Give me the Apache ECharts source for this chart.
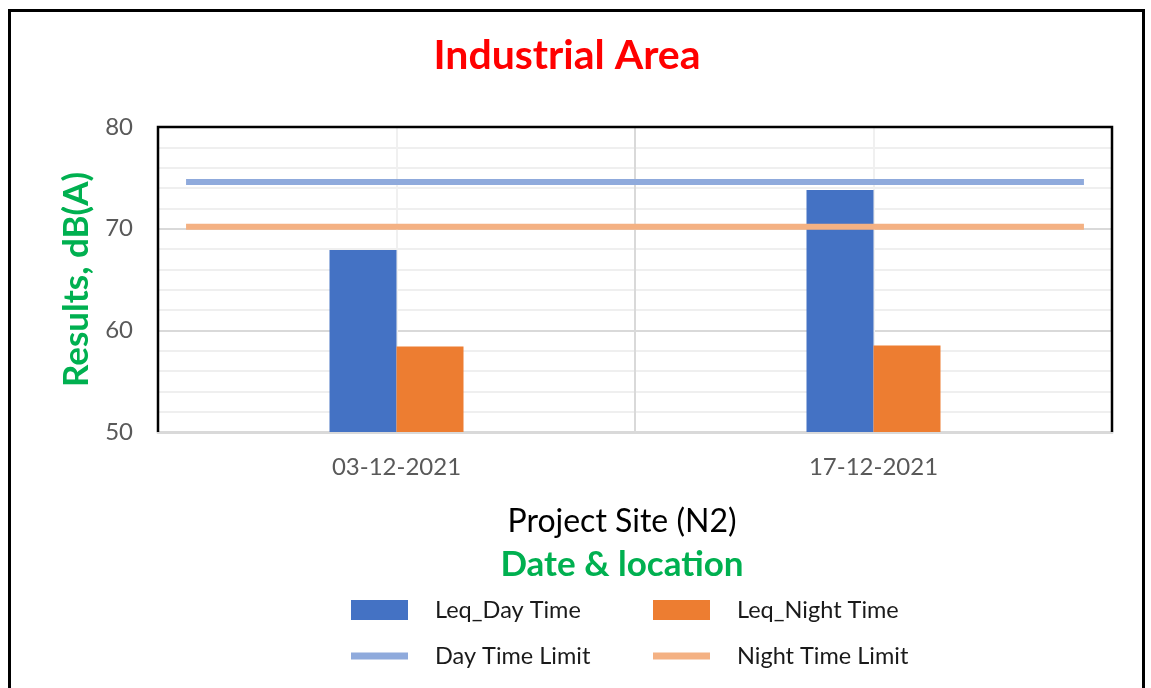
<!DOCTYPE html>
<html>
<head>
<meta charset="utf-8">
<title>Industrial Area</title>
<script src="https://cdn.jsdelivr.net/npm/echarts@6/dist/echarts.min.js"></script>
<style>
  html, body { margin: 0; padding: 0; background: #fff; }
  #main { width: 1151px; height: 688px; }
</style>
</head>
<body>
<div id="main"></div>
<script>
// data
var categories = ['03-12-2021', '17-12-2021'];
var leqDay = [67.9, 73.8];
var leqNight = [58.4, 58.5];
var dayLimit = 74.6;
var nightLimit = 70.2;
var yTicks = { min: 50, max: 80, step: 10 };

// limit lines sit on a hidden axis with 17 slots so they run nearly wall to wall
var limitSlots = [];
for (var i = 0; i < 17; i++) limitSlots.push('');
var dayLimitLine = limitSlots.map(function () { return dayLimit; });
var nightLimitLine = limitSlots.map(function () { return nightLimit; });

var font = 'Lato';
var plot = { left: 158, top: 127, right: 1112, bottom: 432 };
var chart = echarts.init(document.getElementById('main'));

var legendBase = {
  orient: 'vertical',
  top: 598,
  padding: 0,
  itemWidth: 57,
  itemHeight: 20,
  itemGap: 22,
  textStyle: { color: '#1a1a1a', fontFamily: font, fontSize: 23.5, padding: [0, 0, 0, 22] }
};
var lineIcon = 'path://M0,0 h57 v7 h-57 z';

chart.setOption({
  backgroundColor: '#fff',
  animation: false,
  title: {
    text: 'Industrial Area',
    left: 562,
    textAlign: 'center',
    top: 30,
    textStyle: { color: '#ff0000', fontFamily: font, fontWeight: 'bold', fontSize: 41 }
  },
  legend: [
    Object.assign({}, legendBase, {
      left: 351,
      data: [
        { name: 'Leq_Day Time', icon: 'rect' },
        { name: 'Day Time Limit', icon: lineIcon }
      ]
    }),
    Object.assign({}, legendBase, {
      left: 653,
      data: [
        { name: 'Leq_Night Time', icon: 'rect' },
        { name: 'Night Time Limit', icon: lineIcon }
      ]
    })
  ],
  grid: {
    left: plot.left, right: 1151 - plot.right, top: plot.top, bottom: 688 - plot.bottom,
    show: true, borderWidth: 0, backgroundColor: '#fff'
  },
  xAxis: [{
    type: 'category',
    data: categories,
    axisLine: { lineStyle: { color: '#d9d9d9', width: 3 } },
    axisTick: { show: false },
    splitLine: { show: false },
    axisLabel: { color: '#595959', fontFamily: font, fontSize: 24, margin: 23 },
    name: '{a|Project Site (N2)}\n{b|Date & location}',
    nameLocation: 'middle',
    nameGap: 68,
    nameTextStyle: {
      padding: [0, 26, 0, 0],
      rich: {
        a: { color: '#000', fontFamily: font, fontSize: 32, lineHeight: 43 },
        b: { color: '#00b050', fontFamily: font, fontSize: 35, fontWeight: 'bold', lineHeight: 43 }
      }
    }
  }, {
    // only for vertical grid lines: category boundary (major) and centres (minor)
    type: 'value',
    min: 0, max: 4, interval: 2,
    position: 'bottom',
    axisLine: { show: false },
    axisTick: { show: false },
    axisLabel: { show: false },
    splitLine: { show: true, lineStyle: { color: '#d9d9d9', width: 2 } },
    minorTick: { show: false, splitNumber: 2 },
    minorSplitLine: { show: true, lineStyle: { color: '#f0f0f0', width: 2 } }
  }, {
    type: 'category',
    data: limitSlots,
    show: false
  }],
  yAxis: {
    type: 'value',
    min: yTicks.min, max: yTicks.max, interval: yTicks.step,
    axisLine: { show: false },
    axisTick: { show: false },
    axisLabel: { color: '#595959', fontFamily: font, fontSize: 24, margin: 25 },
    splitLine: { lineStyle: { color: '#d9d9d9', width: 2 } },
    minorTick: { show: false, splitNumber: 5 },
    minorSplitLine: { show: true, lineStyle: { color: '#efefef', width: 2 } },
    name: 'Results, dB(A)',
    nameLocation: 'middle',
    nameGap: 64,
    nameTextStyle: { color: '#00b050', fontFamily: font, fontSize: 35, fontWeight: 'bold' }
  },
  series: [{
    name: 'Leq_Day Time',
    type: 'bar',
    data: leqDay,
    barWidth: 67,
    barGap: '0%',
    itemStyle: { color: '#4472c4' }
  }, {
    name: 'Leq_Night Time',
    type: 'bar',
    data: leqNight,
    barWidth: 67,
    barGap: '0%',
    itemStyle: { color: '#ed7d31' }
  }, {
    name: 'Day Time Limit',
    type: 'line',
    xAxisIndex: 2,
    data: dayLimitLine,
    symbol: 'none',
    color: '#8faadc',
    lineStyle: { color: '#8faadc', width: 6 },
    itemStyle: { color: '#8faadc' }
  }, {
    name: 'Night Time Limit',
    type: 'line',
    xAxisIndex: 2,
    data: nightLimitLine,
    symbol: 'none',
    color: '#f4b183',
    lineStyle: { color: '#f4b183', width: 6 },
    itemStyle: { color: '#f4b183' }
  }],
  graphic: [{
    // black plot-area border on left, top and right
    type: 'polyline',
    silent: true,
    z: 100,
    shape: { points: [[plot.left, plot.bottom], [plot.left, plot.top], [plot.right, plot.top], [plot.right, plot.bottom]] },
    style: { fill: 'none', stroke: '#000', lineWidth: 2.5 }
  }, {
    // outer frame
    type: 'rect',
    silent: true,
    shape: { x: 9.5, y: 10.5, width: 1134, height: 700 },
    style: { fill: 'none', stroke: '#000', lineWidth: 3 }
  }]
});
</script>
</body>
</html>
